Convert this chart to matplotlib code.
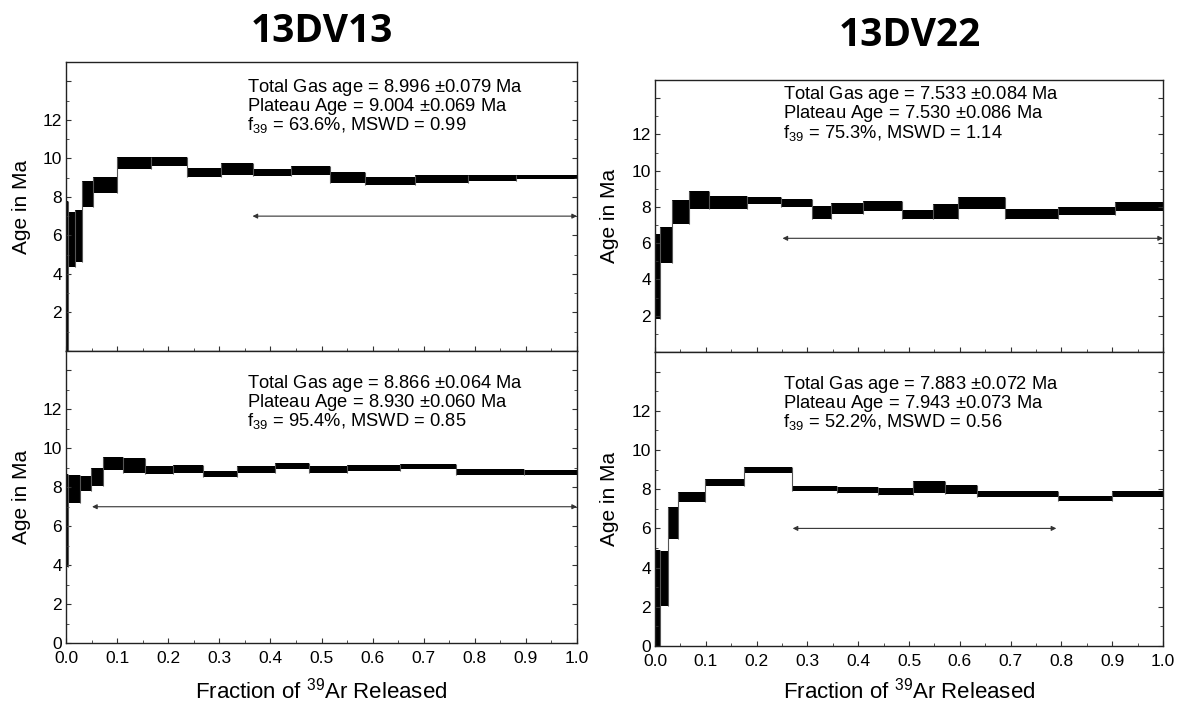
import numpy as np
import matplotlib.pyplot as plt
from matplotlib.ticker import MultipleLocator

plt.rcParams['font.family'] = ['Liberation Sans', 'DejaVu Sans']
plt.rcParams['mathtext.default'] = 'regular'

# step heating spectra: cumulative 39Ar fraction edges, step age (Ma), 1-sigma half height
dv13_a_edges = [0.0, 0.003, 0.017, 0.031, 0.052, 0.100, 0.166, 0.236, 0.304, 0.365,
                0.441, 0.517, 0.585, 0.683, 0.787, 0.880, 1.0]
dv13_a_age = [3.9, 5.77, 5.95, 8.15, 8.6, 9.74, 9.82, 9.27, 9.46, 9.27,
              9.35, 9.01, 8.81, 8.93, 8.96, 9.05]
dv13_a_err = [3.9, 1.42, 1.35, 0.66, 0.42, 0.31, 0.23, 0.23, 0.30, 0.20,
              0.24, 0.28, 0.20, 0.20, 0.15, 0.11]

dv13_b_edges = [0.0, 0.004, 0.027, 0.049, 0.072, 0.111, 0.155, 0.210, 0.269, 0.334,
                0.409, 0.475, 0.549, 0.653, 0.763, 0.896, 1.0]
dv13_b_age = [6.3, 7.9, 8.2, 8.53, 9.21, 9.12, 8.89, 8.95, 8.68, 8.9,
              9.1, 8.92, 8.99, 9.05, 8.78, 8.77]
dv13_b_err = [2.4, 0.73, 0.38, 0.47, 0.33, 0.37, 0.21, 0.20, 0.17, 0.19,
              0.16, 0.17, 0.14, 0.13, 0.14, 0.12]

dv22_a_edges = [0.0, 0.010, 0.033, 0.067, 0.106, 0.181, 0.248, 0.309, 0.346, 0.409,
                0.486, 0.547, 0.596, 0.688, 0.793, 0.906, 1.0]
dv22_a_age = [4.16, 5.9, 7.72, 8.4, 8.25, 8.35, 8.21, 7.69, 7.92, 8.04,
              7.57, 7.74, 8.22, 7.59, 7.76, 8.03]
dv22_a_err = [2.33, 1.0, 0.64, 0.5, 0.38, 0.18, 0.23, 0.34, 0.29, 0.29,
              0.25, 0.42, 0.32, 0.27, 0.22, 0.26]

dv22_b_edges = [0.0, 0.010, 0.025, 0.045, 0.098, 0.176, 0.269, 0.358, 0.438, 0.507,
                0.571, 0.634, 0.793, 0.900, 1.0]
dv22_b_age = [2.45, 3.45, 6.27, 7.59, 8.35, 9.0, 8.04, 7.96, 7.87, 8.11,
              7.98, 7.76, 7.52, 7.75]
dv22_b_err = [2.45, 1.41, 0.83, 0.26, 0.17, 0.15, 0.14, 0.14, 0.17, 0.32,
              0.23, 0.17, 0.14, 0.15]

# plateau extent (start, end) and the age level of the arrow
plateau_dv13_a = (0.365, 1.0, 7.0)
plateau_dv13_b = (0.051, 1.0, 7.0)
plateau_dv22_a = (0.251, 1.0, 6.27)
plateau_dv22_b = (0.271, 0.79, 6.0)

text_dv13_a = ["Total Gas age = 8.996 $\\pm$0.079 Ma", "Plateau Age = 9.004 $\\pm$0.069 Ma",
               "f$_{39}$ = 63.6%, MSWD = 0.99"]
text_dv13_b = ["Total Gas age = 8.866 $\\pm$0.064 Ma", "Plateau Age = 8.930 $\\pm$0.060 Ma",
               "f$_{39}$ = 95.4%, MSWD = 0.85"]
text_dv22_a = ["Total Gas age = 7.533 $\\pm$0.084 Ma", "Plateau Age = 7.530 $\\pm$0.086 Ma",
               "f$_{39}$ = 75.3%, MSWD = 1.14"]
text_dv22_b = ["Total Gas age = 7.883 $\\pm$0.072 Ma", "Plateau Age = 7.943 $\\pm$0.073 Ma",
               "f$_{39}$ = 52.2%, MSWD = 0.56"]

W, H = 1181, 705
fig = plt.figure(figsize=(W / 100, H / 100), dpi=100)


def px_axes(x0, y0, x1, y1):
    # axes from pixel box (top-left origin)
    return fig.add_axes([x0 / W, 1 - y1 / H, (x1 - x0) / W, (y1 - y0) / H])


def spectrum(ax, edges, age, err, plateau, lines, text_x, text_y0, bottom, ylab_x, xlab_y=None):
    edges = np.asarray(edges)
    age = np.asarray(age)
    err = np.asarray(err)
    lo = age - err
    hi = age + err
    ax.bar(edges[:-1], hi - lo, width=np.diff(edges), bottom=lo, align='edge',
           color='black', linewidth=0)
    ax.vlines(edges[1:-1], np.minimum(lo[:-1], lo[1:]), np.maximum(hi[:-1], hi[1:]),
              color='#555555', lw=0.8)

    x0, x1, ya = plateau
    ax.annotate('', xy=(x1, ya), xytext=(x0, ya),
                arrowprops=dict(arrowstyle='<|-|>', color='#333333', lw=0.8,
                                mutation_scale=7, shrinkA=0, shrinkB=0))

    line_step = 19.0 / (ax.bbox.height)
    for i, s in enumerate(lines):
        ax.text(text_x, text_y0 - i * line_step, s, transform=ax.transAxes,
                fontsize=13.2, va='center', ha='left')

    ax.set_xlim(0, 1)
    ax.set_ylim(0, 15)
    ax.xaxis.set_major_locator(MultipleLocator(0.1))
    ax.xaxis.set_minor_locator(MultipleLocator(0.05))
    ax.yaxis.set_minor_locator(MultipleLocator(1))
    ax.tick_params(which='both', direction='in', right=True, top=False,
                   labelsize=12.5, color='#333333')
    ax.tick_params(axis='y', pad=3)
    ax.tick_params(axis='x', pad=6)
    ax.tick_params(which='major', length=3.5)
    ax.tick_params(which='minor', length=2)
    for sp in ax.spines.values():
        sp.set_color('#222222')
        sp.set_linewidth(1.0)

    ax.set_yticks([0, 2, 4, 6, 8, 10, 12, 14])
    if bottom:
        ax.set_yticklabels(['0', '2', '4', '6', '8', '10', '12', ''])
        ax.set_xticks(np.arange(0, 1.01, 0.1))
        ax.set_xticklabels(['%.1f' % v for v in np.arange(0, 1.01, 0.1)])
        ax.set_xlabel('Fraction of $^{39}$Ar Released', fontsize=16)
        ax.xaxis.set_label_coords(0.5, xlab_y)
    else:
        ax.set_yticklabels(['', '2', '4', '6', '8', '10', '12', ''])
        ax.tick_params(labelbottom=False)
    ax.set_ylabel('Age in Ma', fontsize=15)
    ax.yaxis.set_label_coords(ylab_x, 0.5)


ax1 = px_axes(66, 62, 577, 351)
spectrum(ax1, dv13_a_edges, dv13_a_age, dv13_a_err, plateau_dv13_a, text_dv13_a,
         0.354, 0.912, False, -0.068)
ax2 = px_axes(66, 351, 577, 643)
spectrum(ax2, dv13_b_edges, dv13_b_age, dv13_b_err, plateau_dv13_b, text_dv13_b,
         0.354, 0.890, True, -0.068, -0.118)

ax3 = px_axes(655, 80, 1163, 352)
spectrum(ax3, dv22_a_edges, dv22_a_age, dv22_a_err, plateau_dv22_a, text_dv22_a,
         0.252, 0.945, False, -0.071)
ax4 = px_axes(655, 352, 1163, 646)
spectrum(ax4, dv22_b_edges, dv22_b_age, dv22_b_err, plateau_dv22_b, text_dv22_b,
         0.252, 0.890, True, -0.071, -0.108)

fig.text(322 / W, 1 - 31 / H, '13DV13', fontsize=28, fontweight='bold',
         family='Open Sans', ha='center', va='center')
fig.text(910 / W, 1 - 35 / H, '13DV22', fontsize=28, fontweight='bold',
         family='Open Sans', ha='center', va='center')

fig.savefig('out.png', dpi=100)
